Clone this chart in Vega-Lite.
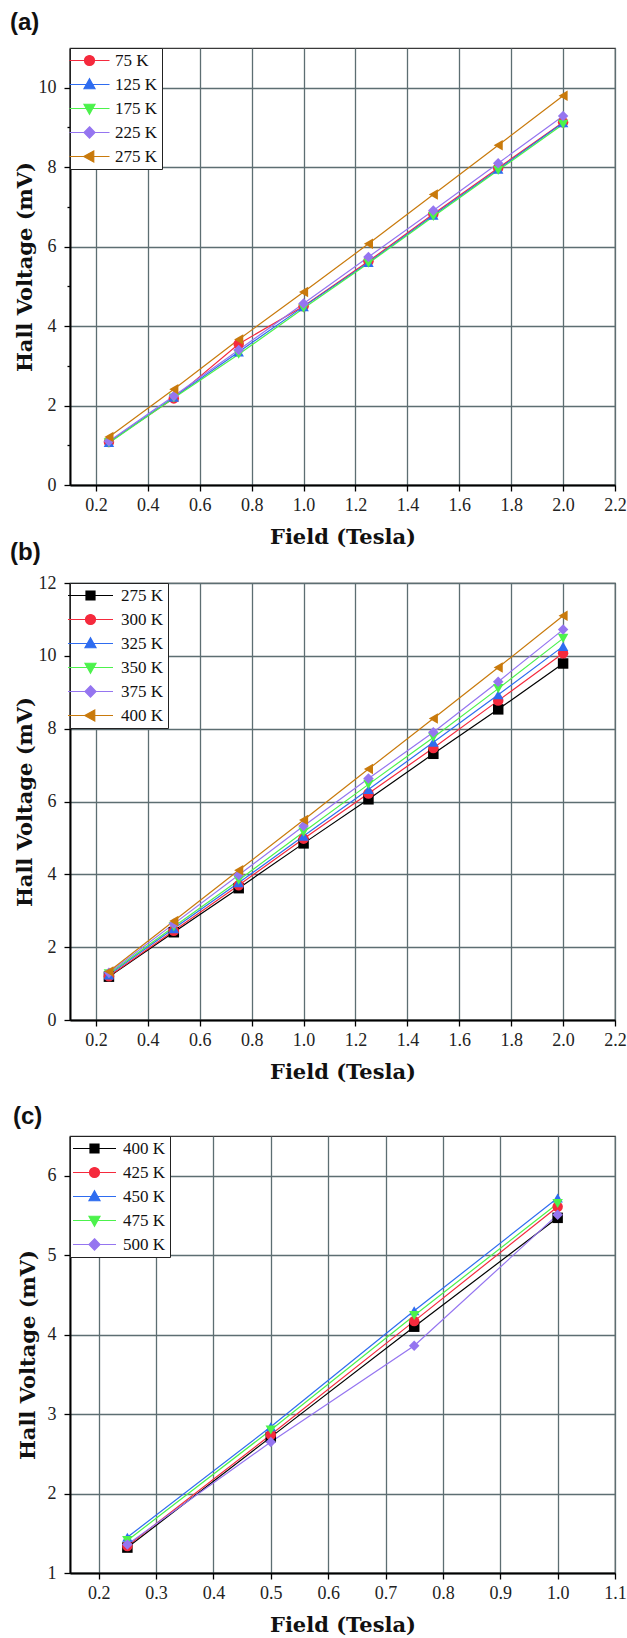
{
"$schema": "https://vega.github.io/schema/vega-lite/v6.json",
"padding": {"left": 9, "top": 9, "right": 0, "bottom": 0},
"spacing": -8,
"resolve": {"scale": {"color": "independent", "shape": "independent", "fill": "independent", "stroke": "independent"}},
"datasets": {
"a": [
{"B":0.25,"T":"75 K","V":1.08},{"B":0.5,"T":"75 K","V":2.18},{"B":0.75,"T":"75 K","V":3.55},{"B":1.0,"T":"75 K","V":4.50},{"B":1.25,"T":"75 K","V":5.63},{"B":1.5,"T":"75 K","V":6.82},{"B":1.75,"T":"75 K","V":7.98},{"B":2.0,"T":"75 K","V":9.13},
{"B":0.25,"T":"125 K","V":1.07},{"B":0.5,"T":"125 K","V":2.21},{"B":0.75,"T":"125 K","V":3.35},{"B":1.0,"T":"125 K","V":4.49},{"B":1.25,"T":"125 K","V":5.60},{"B":1.5,"T":"125 K","V":6.79},{"B":1.75,"T":"125 K","V":7.95},{"B":2.0,"T":"125 K","V":9.12},
{"B":0.25,"T":"175 K","V":1.06},{"B":0.5,"T":"175 K","V":2.19},{"B":0.75,"T":"175 K","V":3.29},{"B":1.0,"T":"175 K","V":4.45},{"B":1.25,"T":"175 K","V":5.58},{"B":1.5,"T":"175 K","V":6.76},{"B":1.75,"T":"175 K","V":7.92},{"B":2.0,"T":"175 K","V":9.08},
{"B":0.25,"T":"225 K","V":1.10},{"B":0.5,"T":"225 K","V":2.24},{"B":0.75,"T":"225 K","V":3.40},{"B":1.0,"T":"225 K","V":4.57},{"B":1.25,"T":"225 K","V":5.74},{"B":1.5,"T":"225 K","V":6.91},{"B":1.75,"T":"225 K","V":8.10},{"B":2.0,"T":"225 K","V":9.29},
{"B":0.25,"T":"275 K","V":1.21},{"B":0.5,"T":"275 K","V":2.41},{"B":0.75,"T":"275 K","V":3.66},{"B":1.0,"T":"275 K","V":4.86},{"B":1.25,"T":"275 K","V":6.07},{"B":1.5,"T":"275 K","V":7.31},{"B":1.75,"T":"275 K","V":8.55},{"B":2.0,"T":"275 K","V":9.80}
],
"b": [
{"B":0.25,"T":"275 K","V":1.19},{"B":0.5,"T":"275 K","V":2.41},{"B":0.75,"T":"275 K","V":3.62},{"B":1.0,"T":"275 K","V":4.85},{"B":1.25,"T":"275 K","V":6.06},{"B":1.5,"T":"275 K","V":7.31},{"B":1.75,"T":"275 K","V":8.53},{"B":2.0,"T":"275 K","V":9.79},
{"B":0.25,"T":"300 K","V":1.20},{"B":0.5,"T":"300 K","V":2.45},{"B":0.75,"T":"300 K","V":3.70},{"B":1.0,"T":"300 K","V":4.98},{"B":1.25,"T":"300 K","V":6.22},{"B":1.5,"T":"300 K","V":7.47},{"B":1.75,"T":"300 K","V":8.77},{"B":2.0,"T":"300 K","V":10.07},
{"B":0.25,"T":"325 K","V":1.24},{"B":0.5,"T":"325 K","V":2.51},{"B":0.75,"T":"325 K","V":3.77},{"B":1.0,"T":"325 K","V":5.05},{"B":1.25,"T":"325 K","V":6.33},{"B":1.5,"T":"325 K","V":7.63},{"B":1.75,"T":"325 K","V":8.93},{"B":2.0,"T":"325 K","V":10.26},
{"B":0.25,"T":"350 K","V":1.27},{"B":0.5,"T":"350 K","V":2.56},{"B":0.75,"T":"350 K","V":3.84},{"B":1.0,"T":"350 K","V":5.16},{"B":1.25,"T":"350 K","V":6.47},{"B":1.5,"T":"350 K","V":7.76},{"B":1.75,"T":"350 K","V":9.10},{"B":2.0,"T":"350 K","V":10.48},
{"B":0.25,"T":"375 K","V":1.30},{"B":0.5,"T":"375 K","V":2.64},{"B":0.75,"T":"375 K","V":3.98},{"B":1.0,"T":"375 K","V":5.33},{"B":1.25,"T":"375 K","V":6.63},{"B":1.5,"T":"375 K","V":7.90},{"B":1.75,"T":"375 K","V":9.29},{"B":2.0,"T":"375 K","V":10.72},
{"B":0.25,"T":"400 K","V":1.33},{"B":0.5,"T":"400 K","V":2.72},{"B":0.75,"T":"400 K","V":4.11},{"B":1.0,"T":"400 K","V":5.49},{"B":1.25,"T":"400 K","V":6.89},{"B":1.5,"T":"400 K","V":8.28},{"B":1.75,"T":"400 K","V":9.68},{"B":2.0,"T":"400 K","V":11.10}
],
"c": [
{"B":0.25,"T":"400 K","V":1.32},{"B":0.5,"T":"400 K","V":2.71},{"B":0.75,"T":"400 K","V":4.10},{"B":1.0,"T":"400 K","V":5.47},
{"B":0.25,"T":"425 K","V":1.34},{"B":0.5,"T":"425 K","V":2.74},{"B":0.75,"T":"425 K","V":4.17},{"B":1.0,"T":"425 K","V":5.61},
{"B":0.25,"T":"450 K","V":1.45},{"B":0.5,"T":"450 K","V":2.84},{"B":0.75,"T":"450 K","V":4.30},{"B":1.0,"T":"450 K","V":5.72},
{"B":0.25,"T":"475 K","V":1.41},{"B":0.5,"T":"475 K","V":2.80},{"B":0.75,"T":"475 K","V":4.24},{"B":1.0,"T":"475 K","V":5.65},
{"B":0.25,"T":"500 K","V":1.36},{"B":0.5,"T":"500 K","V":2.65},{"B":0.75,"T":"500 K","V":3.86},{"B":1.0,"T":"500 K","V":5.51}
]
},
"vconcat": [
{
"title": {"text": "(a)", "offset": 13},
"width": 545, "height": 437,
"data": {"name": "a"},
"layer": [
{"mark": {"type": "line", "strokeWidth": 1.2},
 "encoding": {
  "x": {"field": "B", "type": "quantitative", "scale": {"domain": [0.1, 2.2], "nice": false, "zero": false},
   "axis": {"title": "Field (Tesla)", "values": [0.2,0.3,0.4,0.5,0.6,0.7,0.8,0.9,1.0,1.1,1.2,1.3,1.4,1.5,1.6,1.7,1.8,1.9,2.0,2.1,2.2], "format": ".1f",
    "labelExpr": "round(datum.value*10)%2==1 ? '' : datum.label",
    "tickSize": {"condition": {"test": "round(datum.value*10)%2==1", "value": 3}, "value": 6},
    "gridOpacity": {"condition": {"test": "round(datum.value*10)%2==1", "value": 0}, "value": 1}}},
  "y": {"field": "V", "type": "quantitative", "scale": {"domain": [0, 11], "nice": false},
   "axis": {"title": "Hall Voltage (mV)", "values": [0,1,2,3,4,5,6,7,8,9,10], "format": "d",
    "labelExpr": "datum.value%2==1 ? '' : datum.label",
    "tickSize": {"condition": {"test": "datum.value%2==1", "value": 3}, "value": 6},
    "gridOpacity": {"condition": {"test": "datum.value%2==1", "value": 0}, "value": 1}}},
  "color": {"field": "T", "type": "nominal", "scale": {"domain": ["75 K","125 K","175 K","225 K","275 K"], "range": ["#F52A3D","#2E6CF0","#4CF24C","#9575F0","#C97A0C"]}, "legend": null}
 }},
{"mark": {"type": "point", "filled": true, "size": 110, "opacity": 1},
 "encoding": {
  "x": {"field": "B", "type": "quantitative"},
  "y": {"field": "V", "type": "quantitative"},
  "color": {"field": "T", "type": "nominal", "scale": {"domain": ["75 K","125 K","175 K","225 K","275 K"], "range": ["#F52A3D","#2E6CF0","#4CF24C","#9575F0","#C97A0C"]}, "legend": null},
  "shape": {"field": "T", "type": "nominal", "scale": {"domain": ["75 K","125 K","175 K","225 K","275 K"], "range": ["circle","triangle-up","triangle-down","diamond","triangle-left"]}, "legend": null}
 }},
{"transform": [{"filter": "false"}],
 "mark": {"type": "point", "filled": true, "opacity": 1, "strokeWidth": 1.2},
 "encoding": {
  "x": {"field": "B", "type": "quantitative"},
  "y": {"field": "V", "type": "quantitative"},
  "fill": {"field": "T", "type": "nominal", "scale": {"domain": ["75 K","125 K","175 K","225 K","275 K"], "range": ["#F52A3D","#2E6CF0","#4CF24C","#9575F0","#C97A0C"]}, "legend": {"title": null, "symbolOffset": 7, "labelOffset": 17}},
  "stroke": {"field": "T", "type": "nominal", "scale": {"domain": ["75 K","125 K","175 K","225 K","275 K"], "range": ["#F52A3D","#2E6CF0","#4CF24C","#9575F0","#C97A0C"]}, "legend": {"title": null, "symbolOffset": 7, "labelOffset": 17}},
  "shape": {"field": "T", "type": "nominal", "scale": {"domain": ["75 K","125 K","175 K","225 K","275 K"], "range": [
    "M-4,0H4M1,0A1,1 0 1,1 -1,0A1,1 0 1,1 1,0Z",
    "M-4,0H4M0,-1.15L1.1,0.85H-1.1Z",
    "M-4,0H4M0,1.15L1.1,-0.85H-1.1Z",
    "M-4,0H4M0,-1.15L1.1,0L0,1.15L-1.1,0Z",
    "M-4,0H4M-1.15,0L0.85,-1.1V1.1Z"]}, "legend": {"title": null, "symbolOffset": 7, "labelOffset": 17}}
 }}
],
"resolve": {"scale": {"shape": "independent", "fill": "independent", "stroke": "independent"}}
},
{
"title": {"text": "(b)", "offset": 9},
"width": 545, "height": 437,
"data": {"name": "b"},
"layer": [
{"mark": {"type": "line", "strokeWidth": 1.2},
 "encoding": {
  "x": {"field": "B", "type": "quantitative", "scale": {"domain": [0.1, 2.2], "nice": false, "zero": false},
   "axis": {"title": "Field (Tesla)", "values": [0.2,0.3,0.4,0.5,0.6,0.7,0.8,0.9,1.0,1.1,1.2,1.3,1.4,1.5,1.6,1.7,1.8,1.9,2.0,2.1,2.2], "format": ".1f",
    "labelExpr": "round(datum.value*10)%2==1 ? '' : datum.label",
    "tickSize": {"condition": {"test": "round(datum.value*10)%2==1", "value": 3}, "value": 6},
    "gridOpacity": {"condition": {"test": "round(datum.value*10)%2==1", "value": 0}, "value": 1}}},
  "y": {"field": "V", "type": "quantitative", "scale": {"domain": [0, 12], "nice": false},
   "axis": {"title": "Hall Voltage (mV)", "values": [0,1,2,3,4,5,6,7,8,9,10,11,12], "format": "d",
    "labelExpr": "datum.value%2==1 ? '' : datum.label",
    "tickSize": {"condition": {"test": "datum.value%2==1", "value": 3}, "value": 6},
    "gridOpacity": {"condition": {"test": "datum.value%2==1", "value": 0}, "value": 1}}},
  "color": {"field": "T", "type": "nominal", "scale": {"domain": ["275 K","300 K","325 K","350 K","375 K","400 K"], "range": ["#000000","#F52A3D","#2E6CF0","#4CF24C","#9575F0","#C97A0C"]}, "legend": null}
 }},
{"mark": {"type": "point", "filled": true, "size": 110, "opacity": 1},
 "encoding": {
  "x": {"field": "B", "type": "quantitative"},
  "y": {"field": "V", "type": "quantitative"},
  "color": {"field": "T", "type": "nominal", "scale": {"domain": ["275 K","300 K","325 K","350 K","375 K","400 K"], "range": ["#000000","#F52A3D","#2E6CF0","#4CF24C","#9575F0","#C97A0C"]}, "legend": null},
  "shape": {"field": "T", "type": "nominal", "scale": {"domain": ["275 K","300 K","325 K","350 K","375 K","400 K"], "range": ["square","circle","triangle-up","triangle-down","diamond","triangle-left"]}, "legend": null}
 }},
{"transform": [{"filter": "false"}],
 "mark": {"type": "point", "filled": true, "opacity": 1, "strokeWidth": 1.2},
 "encoding": {
  "x": {"field": "B", "type": "quantitative"},
  "y": {"field": "V", "type": "quantitative"},
  "fill": {"field": "T", "type": "nominal", "scale": {"domain": ["275 K","300 K","325 K","350 K","375 K","400 K"], "range": ["#000000","#F52A3D","#2E6CF0","#4CF24C","#9575F0","#C97A0C"]}, "legend": {"title": null, "symbolOffset": 8, "labelOffset": 22}},
  "stroke": {"field": "T", "type": "nominal", "scale": {"domain": ["275 K","300 K","325 K","350 K","375 K","400 K"], "range": ["#000000","#F52A3D","#2E6CF0","#4CF24C","#9575F0","#C97A0C"]}, "legend": {"title": null, "symbolOffset": 8, "labelOffset": 22}},
  "shape": {"field": "T", "type": "nominal", "scale": {"domain": ["275 K","300 K","325 K","350 K","375 K","400 K"], "range": [
    "M-4.5,0H4.5M-0.9,-0.9H0.9V0.9H-0.9Z",
    "M-4.5,0H4.5M1,0A1,1 0 1,1 -1,0A1,1 0 1,1 1,0Z",
    "M-4.5,0H4.5M0,-1.15L1.1,0.85H-1.1Z",
    "M-4.5,0H4.5M0,1.15L1.1,-0.85H-1.1Z",
    "M-4.5,0H4.5M0,-1.15L1.1,0L0,1.15L-1.1,0Z",
    "M-4.5,0H4.5M-1.15,0L0.85,-1.1V1.1Z"]}, "legend": {"title": null, "symbolOffset": 8, "labelOffset": 22}}
 }}
],
"resolve": {"scale": {"shape": "independent", "fill": "independent", "stroke": "independent"}}
},
{
"title": {"text": ["", "(c)"], "offset": 7, "lineHeight": 28},
"width": 545, "height": 437,
"data": {"name": "c"},
"layer": [
{"mark": {"type": "line", "strokeWidth": 1.2},
 "encoding": {
  "x": {"field": "B", "type": "quantitative", "scale": {"domain": [0.15, 1.1], "nice": false, "zero": false},
   "axis": {"title": "Field (Tesla)", "values": [0.2,0.25,0.3,0.35,0.4,0.45,0.5,0.55,0.6,0.65,0.7,0.75,0.8,0.85,0.9,0.95,1.0,1.05,1.1], "format": ".1f",
    "labelExpr": "round(datum.value*100)%10==5 ? '' : datum.label",
    "tickSize": {"condition": {"test": "round(datum.value*100)%10==5", "value": 3}, "value": 6},
    "gridOpacity": {"condition": {"test": "round(datum.value*100)%10==5", "value": 0}, "value": 1}}},
  "y": {"field": "V", "type": "quantitative", "scale": {"domain": [1, 6.5], "nice": false, "zero": false},
   "axis": {"title": "Hall Voltage (mV)", "titlePadding": 9, "values": [1,1.5,2,2.5,3,3.5,4,4.5,5,5.5,6], "format": "d",
    "labelExpr": "round(datum.value*10)%10==5 ? '' : datum.label",
    "tickSize": {"condition": {"test": "round(datum.value*10)%10==5", "value": 3}, "value": 6},
    "gridOpacity": {"condition": {"test": "round(datum.value*10)%10==5", "value": 0}, "value": 1}}},
  "color": {"field": "T", "type": "nominal", "scale": {"domain": ["400 K","425 K","450 K","475 K","500 K"], "range": ["#000000","#F52A3D","#2E6CF0","#4CF24C","#9575F0"]}, "legend": null}
 }},
{"mark": {"type": "point", "filled": true, "size": 110, "opacity": 1},
 "encoding": {
  "x": {"field": "B", "type": "quantitative"},
  "y": {"field": "V", "type": "quantitative"},
  "color": {"field": "T", "type": "nominal", "scale": {"domain": ["400 K","425 K","450 K","475 K","500 K"], "range": ["#000000","#F52A3D","#2E6CF0","#4CF24C","#9575F0"]}, "legend": null},
  "shape": {"field": "T", "type": "nominal", "scale": {"domain": ["400 K","425 K","450 K","475 K","500 K"], "range": ["square","circle","triangle-up","triangle-down","diamond"]}, "legend": null}
 }},
{"transform": [{"filter": "false"}],
 "mark": {"type": "point", "filled": true, "opacity": 1, "strokeWidth": 1.2},
 "encoding": {
  "x": {"field": "B", "type": "quantitative"},
  "y": {"field": "V", "type": "quantitative"},
  "fill": {"field": "T", "type": "nominal", "scale": {"domain": ["400 K","425 K","450 K","475 K","500 K"], "range": ["#000000","#F52A3D","#2E6CF0","#4CF24C","#9575F0"]}, "legend": {"title": null, "symbolOffset": 12, "labelOffset": 20}},
  "stroke": {"field": "T", "type": "nominal", "scale": {"domain": ["400 K","425 K","450 K","475 K","500 K"], "range": ["#000000","#F52A3D","#2E6CF0","#4CF24C","#9575F0"]}, "legend": {"title": null, "symbolOffset": 12, "labelOffset": 20}},
  "shape": {"field": "T", "type": "nominal", "scale": {"domain": ["400 K","425 K","450 K","475 K","500 K"], "range": [
    "M-4.3,0H4.3M-0.9,-0.9H0.9V0.9H-0.9Z",
    "M-4.3,0H4.3M1,0A1,1 0 1,1 -1,0A1,1 0 1,1 1,0Z",
    "M-4.3,0H4.3M0,-1.15L1.1,0.85H-1.1Z",
    "M-4.3,0H4.3M0,1.15L1.1,-0.85H-1.1Z",
    "M-4.3,0H4.3M0,-1.15L1.1,0L0,1.15L-1.1,0Z"]}, "legend": {"title": null, "symbolOffset": 12, "labelOffset": 20}}
 }}
],
"resolve": {"scale": {"shape": "independent", "fill": "independent", "stroke": "independent"}}
}
],
"config": {
 "font": "Liberation Serif",
 "view": {"stroke": "#3a3a3a", "strokeWidth": 1.2},
 "axis": {
  "domainColor": "#000000", "domainWidth": 2, "tickColor": "#000000", "tickWidth": 1.3,
  "gridColor": "#5d6e72", "gridWidth": 1.3,
  "labelFont": "Liberation Serif", "labelFontSize": 18, "labelColor": "#222222", "labelPadding": 5,
  "labelFlush": false, "labelOverlap": false,
  "titleFont": "DejaVu Serif", "titleFontWeight": "bold", "titleFontSize": 21, "titleColor": "#111111"
 },
 "axisX": {"titlePadding": 12},
 "axisY": {"labelPadding": 8, "titlePadding": 3},
 "legend": {
  "orient": "top-left", "offset": 0, "padding": 4, "strokeColor": "#222222", "fillColor": "#ffffff",
  "symbolSize": 100, "symbolStrokeWidth": 1.2, "symbolFillColor": "#000000", "symbolStrokeColor": "#000000",
  "rowPadding": 6, "labelFont": "Liberation Serif", "labelFontSize": 17, "labelColor": "#111111"
 },
 "title": {"font": "Liberation Sans", "fontWeight": "bold", "fontSize": 24, "anchor": "start", "frame": "bounds", "color": "#111111", "dx": -4}
}
}
